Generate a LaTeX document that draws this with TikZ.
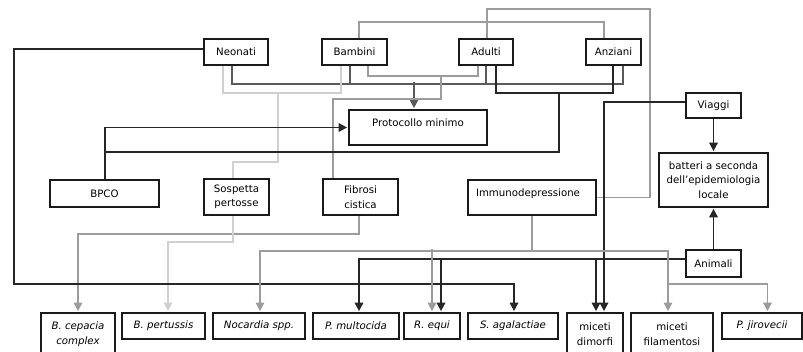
\documentclass[tikz,border=0pt]{standalone}
\usepackage{fontspec}
\setmainfont{DejaVu Sans}
\usetikzlibrary{arrows.meta,backgrounds}

\definecolor{boxc}{HTML}{1A1A1A}
\definecolor{blkc}{HTML}{262626}
\definecolor{dgrc}{HTML}{5A5A5A}
\definecolor{mgrc}{HTML}{9C9C9C}
\definecolor{lgrc}{HTML}{D0D0D0}

\begin{document}
\begin{tikzpicture}[x=1pt,y=-1pt,
  font=\fontsize{10.2}{14.5}\selectfont,
  box/.style={draw=boxc, line width=1.7pt, fill=white, inner sep=0pt,
    align=center, minimum height=26pt},
  itbox/.style={box, font=\fontsize{10.2}{14.5}\selectfont\itshape},
  arr/.style={-{Triangle[width=8.5pt,length=8.5pt]}, shorten >=1pt},
  bline/.style={draw=blkc, line width=1.7pt},
  dline/.style={draw=dgrc, line width=1.6pt},
  mline/.style={draw=mgrc, line width=1.6pt},
  lline/.style={draw=lgrc, line width=1.6pt}]

\useasboundingbox (0,0) rectangle (803,352);
\clip (0,0) rectangle (803,352);

% age groups
\node[box, minimum width=64pt] (neonati) at (236,52) {Neonati};
\node[box, minimum width=65pt] (bambini) at (354.5,52) {Bambini};
\node[box, minimum width=54pt] (adulti) at (486,52) {Adulti};
\node[box, minimum width=55pt] (anziani) at (613.5,52) {Anziani};

% middle row
\node[box, minimum width=138pt, minimum height=35pt, text height=7pt, text depth=9pt]
  (protocollo) at (418,127.5) {Protocollo minimo};
\node[box, minimum width=55pt, minimum height=25pt] (viaggi) at (713.5,105.5) {Viaggi};
\node[box, minimum width=109pt, minimum height=54pt] (batteri) at (713.5,180)
  {batteri a seconda\\dell'epidemiologia\\locale};
\node[box, minimum width=109pt, minimum height=27pt] (bpco) at (104.5,193.5) {BPCO};
\node[box, minimum width=65pt, minimum height=36pt] (sospetta) at (236.5,197) {Sospetta\\pertosse};
\node[box, minimum width=75pt, minimum height=36pt] (fibrosi) at (360.5,197) {Fibrosi\\cistica};
\node[box, minimum width=128pt, minimum height=35pt, text height=7pt, text depth=9pt]
  (immuno) at (532,197.5) {Immunodepressione\hspace*{8pt}};
\node[box, minimum width=55pt, minimum height=27pt] (animali) at (713.5,263.5) {Animali};

% pathogens
\node[itbox, minimum width=74pt, minimum height=42pt] (cepacia) at (78,334) {B. cepacia\\complex};
\node[itbox, minimum width=83pt] (pertussis) at (163.5,326) {B. pertussis};
\node[itbox, minimum width=92pt] (nocardia) at (259,326) {Nocardia spp.};
\node[itbox, minimum width=86pt] (multocida) at (356,326) {P. multocida};
\node[itbox, minimum width=56pt] (equi) at (432,326) {R. equi};
\node[itbox, minimum width=90pt] (agalactiae) at (513,326) {S. agalactiae};
\node[box, minimum width=56pt, minimum height=42pt] (dimorfi) at (595,334) {miceti\\dimorfi};
\node[box, minimum width=82pt, minimum height=42pt] (filamentosi) at (672,334) {miceti\\filamentosi};
\node[itbox, minimum width=80pt] (jirovecii) at (762,326) {P. jirovecii};

\begin{scope}[on background layer]
  % all age groups to the minimum protocol
  \draw[dline] ([xshift=-4pt]neonati.south) -- ++(0,18) -| ([xshift=9.5pt]anziani.south);
  \draw[dline] ([xshift=-4.5pt]bambini.south) -- ++(0,18);
  \draw[dline] (adulti.south) -- ++(0,18);
  \draw[dline,arr] ([xshift=-4pt,yshift=27pt]protocollo.north) -- ([xshift=-4pt]protocollo.north);

  % Bambini to Anziani along the top
  \draw[mline] ([xshift=4.5pt]bambini.north) -- ++(0,-16) -| ([xshift=-9.5pt]anziani.north);
  % Adulti round to Immunodepressione
  \draw[mline] ([xshift=1pt]adulti.north) -- ++(0,-29) -| ([xshift=53pt]immuno.east) -- (immuno.east);

  % Bambini and Adulti to Fibrosi cistica
  \draw[mline] ([xshift=13.5pt]bambini.south) -- ++(0,10) -| ([xshift=-8pt]adulti.south);
  \draw[mline] ([xshift=-45pt,yshift=-10pt]adulti.south)
    |- ([xshift=-27.5pt,yshift=79pt]fibrosi.north) -- ([xshift=-27.5pt]fibrosi.north);
  \draw[mline,arr] ([xshift=-1.5pt]fibrosi.south) -- ++(0,18) -| (cepacia.north);

  % Neonati and Bambini to Sospetta pertosse
  \draw[lline] ([xshift=-13pt]neonati.south) -- ++(0,27) -| ([xshift=-13.5pt]bambini.south);
  \draw[lline] ([xshift=42pt,yshift=-27pt]neonati.south)
    |- ([xshift=-3.5pt,yshift=16pt]sospetta.north) -- ([xshift=-3.5pt]sospetta.north);
  \draw[lline,arr] ([xshift=-3.5pt]sospetta.south) -- ++(0,26) -| ([xshift=4.5pt]pertussis.north);

  % Adulti and Anziani to BPCO, BPCO to the protocol
  \draw[bline] ([xshift=10pt]adulti.south) -- ++(0,27) -| ([xshift=-0.5pt]anziani.south);
  \draw[bline] ([xshift=73pt,yshift=-27pt]adulti.south) |- ([xshift=0.5pt,yshift=27pt]bpco.north);
  \draw[bline,arr] ([xshift=0.5pt]bpco.north) |- (protocollo.west);

  % Neonati to S. agalactiae
  \draw[bline,arr] ([yshift=3pt]neonati.west) -- (14,49)
    |- ([xshift=1pt,yshift=28pt]agalactiae.north) -- ([xshift=1pt]agalactiae.north);

  % Viaggi
  \draw[bline,arr] ([yshift=3.5pt]viaggi.west) -| ([xshift=9pt]dimorfi.north);
  \draw[bline,arr] (viaggi.south) -- (batteri.north);

  % Animali
  \draw[bline,arr] (animali.north) -- (batteri.south);
  \draw[bline,arr] ([yshift=4.5pt]animali.west) -| ([xshift=3pt]multocida.north);
  \draw[bline,arr] ([xshift=9pt,yshift=54pt]equi.north) -- ([xshift=9pt]equi.north);
  \draw[bline,arr] ([xshift=1pt,yshift=54pt]dimorfi.north) -- ([xshift=1pt]dimorfi.north);

  % Immunodepressione
  \draw[mline,arr] (immuno.south) -- ++(0,35) -| ([xshift=1pt]nocardia.north);
  \draw[mline,arr] (immuno.south) -- ++(0,35) -| ([xshift=-4pt]filamentosi.north);
  \draw[mline,arr] ([yshift=63pt]equi.north) -- (equi.north);
  \draw[mline,arr] ([xshift=-4pt,yshift=28pt]filamentosi.north) -| ([xshift=5.5pt]jirovecii.north);
\end{scope}
\end{tikzpicture}
\end{document}
